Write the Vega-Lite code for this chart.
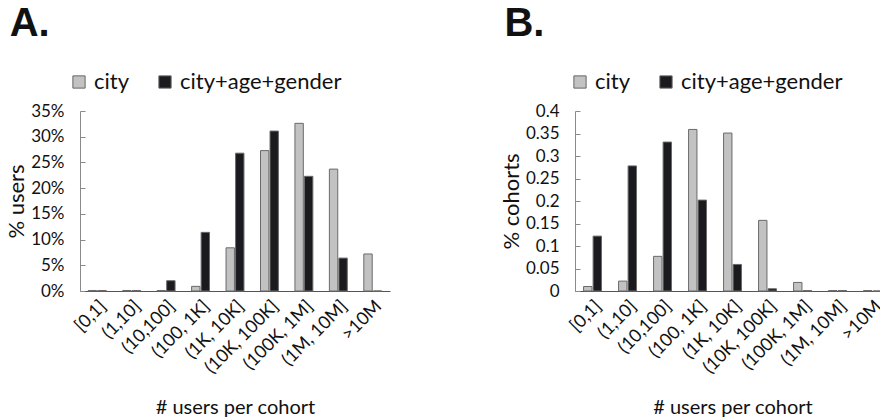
{
  "$schema": "https://vega.github.io/schema/vega-lite/v6.json",
  "padding": {"left": 5, "top": 4, "right": 0, "bottom": 0},
  "config": {
    "font": "Lato",
    "view": {"stroke": null},
    "axis": {"labelFont": "Lato", "titleFont": "Lato", "labelColor": "#111", "titleColor": "#111", "grid": false, "domainColor": "#8a8a8a", "tickColor": "#8a8a8a", "titleFontWeight": "normal"},
    "legend": {"labelFont": "Lato", "labelFontSize": 22, "labelLimit": 400, "labelColor": "#111", "symbolType": "square", "symbolSize": 150, "symbolStrokeColor": "#666", "symbolStrokeWidth": 1, "columnPadding": 24, "labelOffset": 4, "direction": "horizontal", "title": null},
    "title": {"font": "Liberation Sans", "fontSize": 40, "fontWeight": "bold", "anchor": "start", "color": "#111"}
  },
  "datasets": {
    "users": [
      {"bin": "[0,1]", "series": "city", "value": 0.001},
      {"bin": "[0,1]", "series": "city+age+gender", "value": 0.001},
      {"bin": "(1,10]", "series": "city", "value": 0.001},
      {"bin": "(1,10]", "series": "city+age+gender", "value": 0.001},
      {"bin": "(10,100]", "series": "city", "value": 0.001},
      {"bin": "(10,100]", "series": "city+age+gender", "value": 0.02},
      {"bin": "(100, 1K]", "series": "city", "value": 0.009},
      {"bin": "(100, 1K]", "series": "city+age+gender", "value": 0.114},
      {"bin": "(1K, 10K]", "series": "city", "value": 0.084},
      {"bin": "(1K, 10K]", "series": "city+age+gender", "value": 0.268},
      {"bin": "(10K, 100K]", "series": "city", "value": 0.273},
      {"bin": "(10K, 100K]", "series": "city+age+gender", "value": 0.311},
      {"bin": "(100K, 1M]", "series": "city", "value": 0.326},
      {"bin": "(100K, 1M]", "series": "city+age+gender", "value": 0.223},
      {"bin": "(1M, 10M]", "series": "city", "value": 0.237},
      {"bin": "(1M, 10M]", "series": "city+age+gender", "value": 0.064},
      {"bin": ">10M", "series": "city", "value": 0.072},
      {"bin": ">10M", "series": "city+age+gender", "value": 0}
    ],
    "cohorts": [
      {"bin": "[0,1]", "series": "city", "value": 0.010},
      {"bin": "[0,1]", "series": "city+age+gender", "value": 0.122},
      {"bin": "(1,10]", "series": "city", "value": 0.022},
      {"bin": "(1,10]", "series": "city+age+gender", "value": 0.278},
      {"bin": "(10,100]", "series": "city", "value": 0.077},
      {"bin": "(10,100]", "series": "city+age+gender", "value": 0.331},
      {"bin": "(100, 1K]", "series": "city", "value": 0.359},
      {"bin": "(100, 1K]", "series": "city+age+gender", "value": 0.202},
      {"bin": "(1K, 10K]", "series": "city", "value": 0.351},
      {"bin": "(1K, 10K]", "series": "city+age+gender", "value": 0.059},
      {"bin": "(10K, 100K]", "series": "city", "value": 0.157},
      {"bin": "(10K, 100K]", "series": "city+age+gender", "value": 0.005},
      {"bin": "(100K, 1M]", "series": "city", "value": 0.019},
      {"bin": "(100K, 1M]", "series": "city+age+gender", "value": 0.001},
      {"bin": "(1M, 10M]", "series": "city", "value": 0.001},
      {"bin": "(1M, 10M]", "series": "city+age+gender", "value": 0.001},
      {"bin": ">10M", "series": "city", "value": 0.001},
      {"bin": ">10M", "series": "city+age+gender", "value": 0}
    ]
  },
  "spacing": 110,
  "resolve": {"scale": {"color": "independent"}, "legend": {"color": "independent"}},
  "hconcat": [
    {
      "title": {"text": "A.", "offset": 27, "dx": 4},
      "width": 310,
      "height": 180,
      "data": {"name": "users"},
      "mark": {"type": "bar", "stroke": "#6a6a6a", "strokeWidth": 1},
      "encoding": {
        "x": {"field": "bin", "type": "nominal", "sort": ["[0,1]", "(1,10]", "(10,100]", "(100, 1K]", "(1K, 10K]", "(10K, 100K]", "(100K, 1M]", "(1M, 10M]", ">10M"], "scale": {"paddingInner": 0.48, "paddingOuter": 0.24},
          "axis": {"title": "# users per cohort", "titleFontSize": 20, "titlePadding": 21, "labelAngle": -45, "labelFontSize": 18, "ticks": false, "labelPadding": 6, "domainColor": "#555"}},
        "xOffset": {"field": "series", "type": "nominal", "sort": ["city", "city+age+gender"], "scale": {"paddingInner": 0.12, "paddingOuter": 0}},
        "y": {"field": "value", "type": "quantitative", "scale": {"domain": [0, 0.35], "nice": false},
          "axis": {"title": "% users", "titleFontSize": 22, "titlePadding": 2, "format": ".0%", "values": [0, 0.05, 0.1, 0.15, 0.2, 0.25, 0.3, 0.35], "labelFontSize": 17, "tickSize": -5, "labelPadding": 21}},
        "color": {"field": "series", "type": "nominal", "scale": {"domain": ["city", "city+age+gender"], "range": ["#c2c2c2", "#1b1b1f"]}, "legend": {"orient": "none", "legendX": -12, "legendY": -40}}
      }
    },
    {
      "title": {"text": "B.", "offset": 27, "dx": 4},
      "width": 315,
      "height": 180,
      "data": {"name": "cohorts"},
      "mark": {"type": "bar", "stroke": "#6a6a6a", "strokeWidth": 1},
      "encoding": {
        "x": {"field": "bin", "type": "nominal", "sort": ["[0,1]", "(1,10]", "(10,100]", "(100, 1K]", "(1K, 10K]", "(10K, 100K]", "(100K, 1M]", "(1M, 10M]", ">10M"], "scale": {"paddingInner": 0.49, "paddingOuter": 0.245},
          "axis": {"title": "# users per cohort", "titleFontSize": 20, "titlePadding": 21, "labelAngle": -45, "labelFontSize": 18, "ticks": false, "labelPadding": 6, "domainColor": "#555"}},
        "xOffset": {"field": "series", "type": "nominal", "sort": ["city", "city+age+gender"], "scale": {"paddingInner": 0.12, "paddingOuter": 0}},
        "y": {"field": "value", "type": "quantitative", "scale": {"domain": [0, 0.4], "nice": false},
          "axis": {"title": "% cohorts", "titleFontSize": 22, "titlePadding": 2, "format": ".2~f", "values": [0, 0.05, 0.1, 0.15, 0.2, 0.25, 0.3, 0.35, 0.4], "labelFontSize": 17, "tickSize": -5, "labelPadding": 21}},
        "color": {"field": "series", "type": "nominal", "scale": {"domain": ["city", "city+age+gender"], "range": ["#c2c2c2", "#1b1b1f"]}, "legend": {"orient": "none", "legendX": -6, "legendY": -40}}
      }
    }
  ]
}
